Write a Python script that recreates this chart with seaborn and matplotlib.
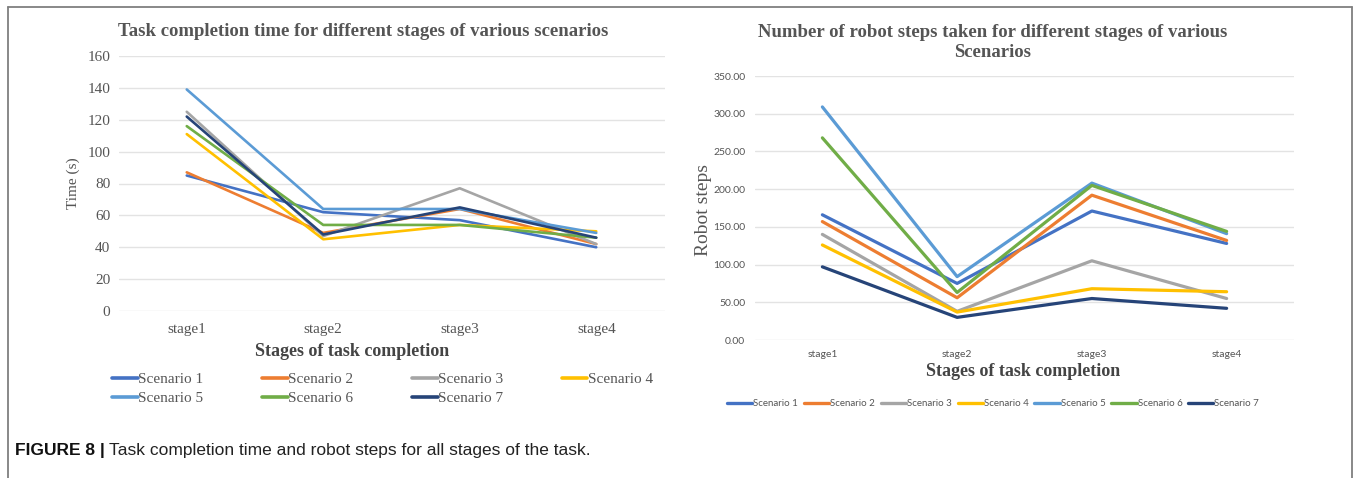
import matplotlib
matplotlib.use('Agg')
import matplotlib.pyplot as plt
from matplotlib.lines import Line2D
import seaborn as sns
import pandas as pd

# Chart values
stages = ['stage1', 'stage2', 'stage3', 'stage4']
scenarios = ['Scenario 1', 'Scenario 2', 'Scenario 3', 'Scenario 4',
             'Scenario 5', 'Scenario 6', 'Scenario 7']

time_s1 = [85, 62, 57, 40]
time_s2 = [87, 49, 64, 42]
time_s3 = [125, 47, 77, 42]
time_s4 = [111, 45, 54, 50]
time_s5 = [139, 64, 64, 49]
time_s6 = [116, 54, 54, 46]
time_s7 = [122, 48, 65, 46]

steps_s1 = [166, 75, 171, 128]
steps_s2 = [157, 56, 192, 132]
steps_s3 = [140, 38, 105, 55]
steps_s4 = [126, 37, 68, 64]
steps_s5 = [309, 84, 208, 141]
steps_s6 = [268, 63, 205, 144]
steps_s7 = [97, 30, 55, 42]

colors = ['#4472C4', '#ED7D31', '#A5A5A5', '#FFC000', '#5B9BD5', '#70AD47', '#264478']

time_vals = [time_s1, time_s2, time_s3, time_s4, time_s5, time_s6, time_s7]
step_vals = [steps_s1, steps_s2, steps_s3, steps_s4, steps_s5, steps_s6, steps_s7]


def to_long(values, col):
    rows = []
    for name, vals in zip(scenarios, values):
        for st, v in zip(stages, vals):
            rows.append({'stage': st, 'scenario': name, col: v})
    return pd.DataFrame(rows)


time_df = to_long(time_vals, 'time')
steps_df = to_long(step_vals, 'steps')

sns.set_style('white')
serif = ['Liberation Serif', 'DejaVu Serif']
sans = ['Lato', 'DejaVu Sans']
plt.rcParams['font.family'] = serif

fig = plt.figure(figsize=(13.56, 4.78), dpi=100)
W, H = 1356, 478

# ---- left chart: task completion time ----
ax1 = fig.add_axes([118.5 / W, 1 - 311 / H, 546 / W, 255 / H])
sns.lineplot(data=time_df, x='stage', y='time', hue='scenario', palette=colors,
             linewidth=1.9, sort=False, ax=ax1, legend=False)
ax1.set_ylim(0, 160)
ax1.set_xlim(-0.5, 3.5)
ax1.set_yticks(range(0, 161, 20))
ax1.grid(axis='y', color='#E3E3E3', linewidth=1)
ax1.set_axisbelow(True)
sns.despine(ax=ax1, left=True, bottom=True)
ax1.tick_params(length=0, labelsize=11, labelcolor='#555555', pad=6)
ax1.tick_params(axis='x', pad=9)
ax1.set_xlabel('')
ax1.set_ylabel('')
fig.text(73 / W, 1 - 183 / H, 'Time (s)', rotation=90, ha='center', va='center',
         fontsize=11, color='#555555')
fig.text(363 / W, 1 - 31 / H, 'Task completion time for different stages of various scenarios',
         ha='center', va='center', fontsize=13.5, fontweight='bold', color='#555555')
fig.text(352 / W, 1 - 352 / H, 'Stages of task completion', ha='center', va='center',
         fontsize=13, fontweight='bold', color='#444444')

# row-major order for a 4-column legend
handles1 = [Line2D([], [], color=c, linewidth=2.6) for c in colors]
order = [0, 4, 1, 5, 2, 6, 3]
fig.legend([handles1[i] for i in order], [scenarios[i] for i in order],
           loc='center left', bbox_to_anchor=(98 / W, 1 - 389 / H), ncol=4,
           frameon=False, fontsize=11, handlelength=1.7, handletextpad=0.05,
           columnspacing=3.8, labelspacing=0.35, labelcolor='#555555')

# ---- right chart: robot steps ----
ax2 = fig.add_axes([755 / W, 1 - 340 / H, 539 / W, 264 / H])
sns.lineplot(data=steps_df, x='stage', y='steps', hue='scenario', palette=colors,
             linewidth=2.3, sort=False, ax=ax2, legend=False)
ax2.set_ylim(0, 350)
ax2.set_xlim(-0.5, 3.5)
ax2.set_yticks(range(0, 351, 50))
ax2.set_yticklabels([f'{v:.2f}' for v in range(0, 351, 50)], family=sans)
ax2.set_xticks(range(4))
ax2.set_xticklabels(stages, family=sans)
ax2.grid(axis='y', color='#E3E3E3', linewidth=1)
ax2.set_axisbelow(True)
sns.despine(ax=ax2, left=True, bottom=True)
ax2.tick_params(length=0, labelsize=7.5, labelcolor='#555555', pad=7)
ax2.set_xlabel('')
ax2.set_ylabel('')
fig.text(703 / W, 1 - 210 / H, 'Robot steps', rotation=90, ha='center', va='center',
         fontsize=14, color='#555555')
fig.text(993 / W, 1 - 42.5 / H,
         'Number of robot steps taken for different stages of various\nScenarios',
         ha='center', va='center', fontsize=13.5, fontweight='bold', color='#555555',
         linespacing=1.3)
fig.text(1023 / W, 1 - 371 / H, 'Stages of task completion', ha='center', va='center',
         fontsize=13, fontweight='bold', color='#444444')

handles2 = [Line2D([], [], color=c, linewidth=2.4) for c in colors]
fig.legend(handles2, scenarios, loc='center left', bbox_to_anchor=(718 / W, 1 - 404 / H),
           ncol=7, frameon=False, prop={'family': sans, 'size': 7},
           handlelength=2.6, handletextpad=0.1, columnspacing=0.6, labelcolor='#555555')

# ---- frame and caption ----
bc = '#7F7F7F'
fig.add_artist(Line2D([8 / W, 1352 / W], [1 - 6.5 / H] * 2, color=bc, linewidth=1.3))
fig.add_artist(Line2D([8 / W] * 2, [0, 1 - 6.5 / H], color=bc, linewidth=1.3))
fig.add_artist(Line2D([1352 / W] * 2, [0, 1 - 6.5 / H], color=bc, linewidth=1.3))

cap1 = fig.text(15 / W, 1 - 450 / H, 'FIGURE 8 |', family=['Liberation Sans'],
                fontweight='bold', fontsize=12.5, va='center', ha='left', color='#111111')
fig.canvas.draw()
bb = cap1.get_window_extent(renderer=fig.canvas.get_renderer())
fig.text(bb.x1 / W + 4 / W, 1 - 450 / H, 'Task completion time and robot steps for all stages of the task.',
         family=['Liberation Sans'], fontsize=12.5, va='center', ha='left', color='#222222')

fig.savefig('out.png', dpi=100)
